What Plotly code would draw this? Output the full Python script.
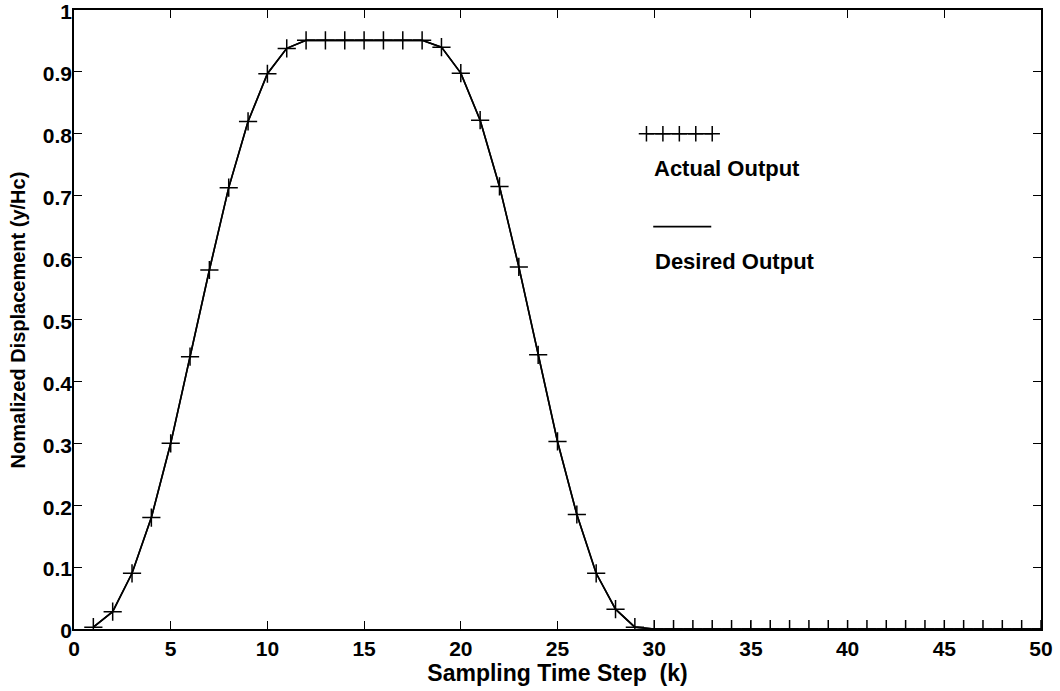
import plotly.graph_objects as go

# Data
k_steps = list(range(1, 51))
actual_output = [0.003, 0.028, 0.090, 0.180, 0.300, 0.440, 0.580, 0.713, 0.820, 0.897,
                 0.938, 0.951, 0.951, 0.951, 0.951, 0.951, 0.951, 0.951, 0.940, 0.898,
                 0.822, 0.715, 0.585, 0.443, 0.303, 0.185, 0.090, 0.032, 0.003, 0.0,
                 0.0, 0.0, 0.0, 0.0, 0.0, 0.0, 0.0, 0.0, 0.0, 0.0,
                 0.0, 0.0, 0.0, 0.0, 0.0, 0.0, 0.0, 0.0, 0.0, 0.0]
desired_output = [0.003, 0.028, 0.090, 0.180, 0.300, 0.440, 0.580, 0.713, 0.820, 0.897,
                  0.938, 0.951, 0.951, 0.951, 0.951, 0.951, 0.951, 0.951, 0.940, 0.898,
                  0.822, 0.715, 0.585, 0.443, 0.303, 0.185, 0.090, 0.032, 0.003, 0.0,
                  0.0, 0.0, 0.0, 0.0, 0.0, 0.0, 0.0, 0.0, 0.0, 0.0,
                  0.0, 0.0, 0.0, 0.0, 0.0, 0.0, 0.0, 0.0, 0.0, 0.0]
x_ticks = [0, 5, 10, 15, 20, 25, 30, 35, 40, 45, 50]
y_ticks = [0, 0.1, 0.2, 0.3, 0.4, 0.5, 0.6, 0.7, 0.8, 0.9, 1]
y_tick_labels = ["0", "0.1", "0.2", "0.3", "0.4", "0.5", "0.6", "0.7", "0.8", "0.9", "1"]

# in-plot legend samples (data coordinates)
legend_actual_x = [29.6, 30.45, 31.3, 32.15, 33.0]
legend_actual_y = [0.80, 0.80, 0.80, 0.80, 0.80]
legend_desired_x = [29.95, 32.95]
legend_desired_y = [0.65, 0.65]

FONT = "Liberation Sans, Arial, sans-serif"
BLACK = "#000000"

fig = go.Figure()

fig.add_trace(go.Scatter(
    x=k_steps, y=desired_output, mode="lines",
    line=dict(color=BLACK, width=1.6), showlegend=False, name="Desired Output"))

fig.add_trace(go.Scatter(
    x=k_steps, y=actual_output, mode="lines+markers",
    line=dict(color=BLACK, width=1.6),
    marker=dict(symbol="cross-thin", size=13, color=BLACK,
                line=dict(color=BLACK, width=1.5)),
    showlegend=False, name="Actual Output"))

# legend samples
fig.add_trace(go.Scatter(
    x=legend_actual_x, y=legend_actual_y, mode="lines+markers",
    line=dict(color=BLACK, width=1.6),
    marker=dict(symbol="cross-thin", size=11, color=BLACK,
                line=dict(color=BLACK, width=1.5)),
    showlegend=False, hoverinfo="skip"))
fig.add_trace(go.Scatter(
    x=legend_desired_x, y=legend_desired_y, mode="lines",
    line=dict(color=BLACK, width=1.6), showlegend=False, hoverinfo="skip"))

fig.add_annotation(x=29.9, y=0.744, xref="x", yref="y", text="Actual Output",
                   showarrow=False, xanchor="left", yanchor="middle",
                   font=dict(family=FONT, size=22, color=BLACK, weight="bold"))
fig.add_annotation(x=29.95, y=0.594, xref="x", yref="y", text="Desired Output",
                   showarrow=False, xanchor="left", yanchor="middle",
                   font=dict(family=FONT, size=22, color=BLACK, weight="bold"))

# y-axis title as a rotated annotation (placed further left than plotly allows)
fig.add_annotation(x=-0.058, y=0.5, xref="paper", yref="paper",
                   text="Nomalized Displacement (y/Hc)", textangle=-90,
                   showarrow=False, xanchor="center", yanchor="middle",
                   font=dict(family=FONT, size=20, color=BLACK, weight="bold"))

axis_common = dict(
    showline=True, linecolor=BLACK, linewidth=1.5, mirror="ticks",
    ticks="inside", ticklen=8, tickwidth=1.3, tickcolor=BLACK,
    showgrid=False, zeroline=False, ticklabeloverflow="allow",
    tickfont=dict(family=FONT, size=21, color=BLACK, weight="bold"),
)

fig.update_xaxes(range=[0, 50], tickvals=x_ticks,
                 ticktext=[str(v) for v in x_ticks],
                 title=dict(text="Sampling Time Step  (k)", standoff=0,
                            font=dict(family=FONT, size=23, color=BLACK, weight="bold")),
                 **axis_common)
fig.update_yaxes(range=[0, 1], tickvals=y_ticks, ticktext=y_tick_labels,
                 ticklabelstandoff=-4, ticklabelshift=2,
                 **axis_common)

fig.update_layout(
    width=1060, height=691,
    margin=dict(l=74, r=19, t=10, b=62, autoexpand=False),
    paper_bgcolor="white", plot_bgcolor="white",
    font=dict(family=FONT, color=BLACK),
)

fig.write_html("out.html")
